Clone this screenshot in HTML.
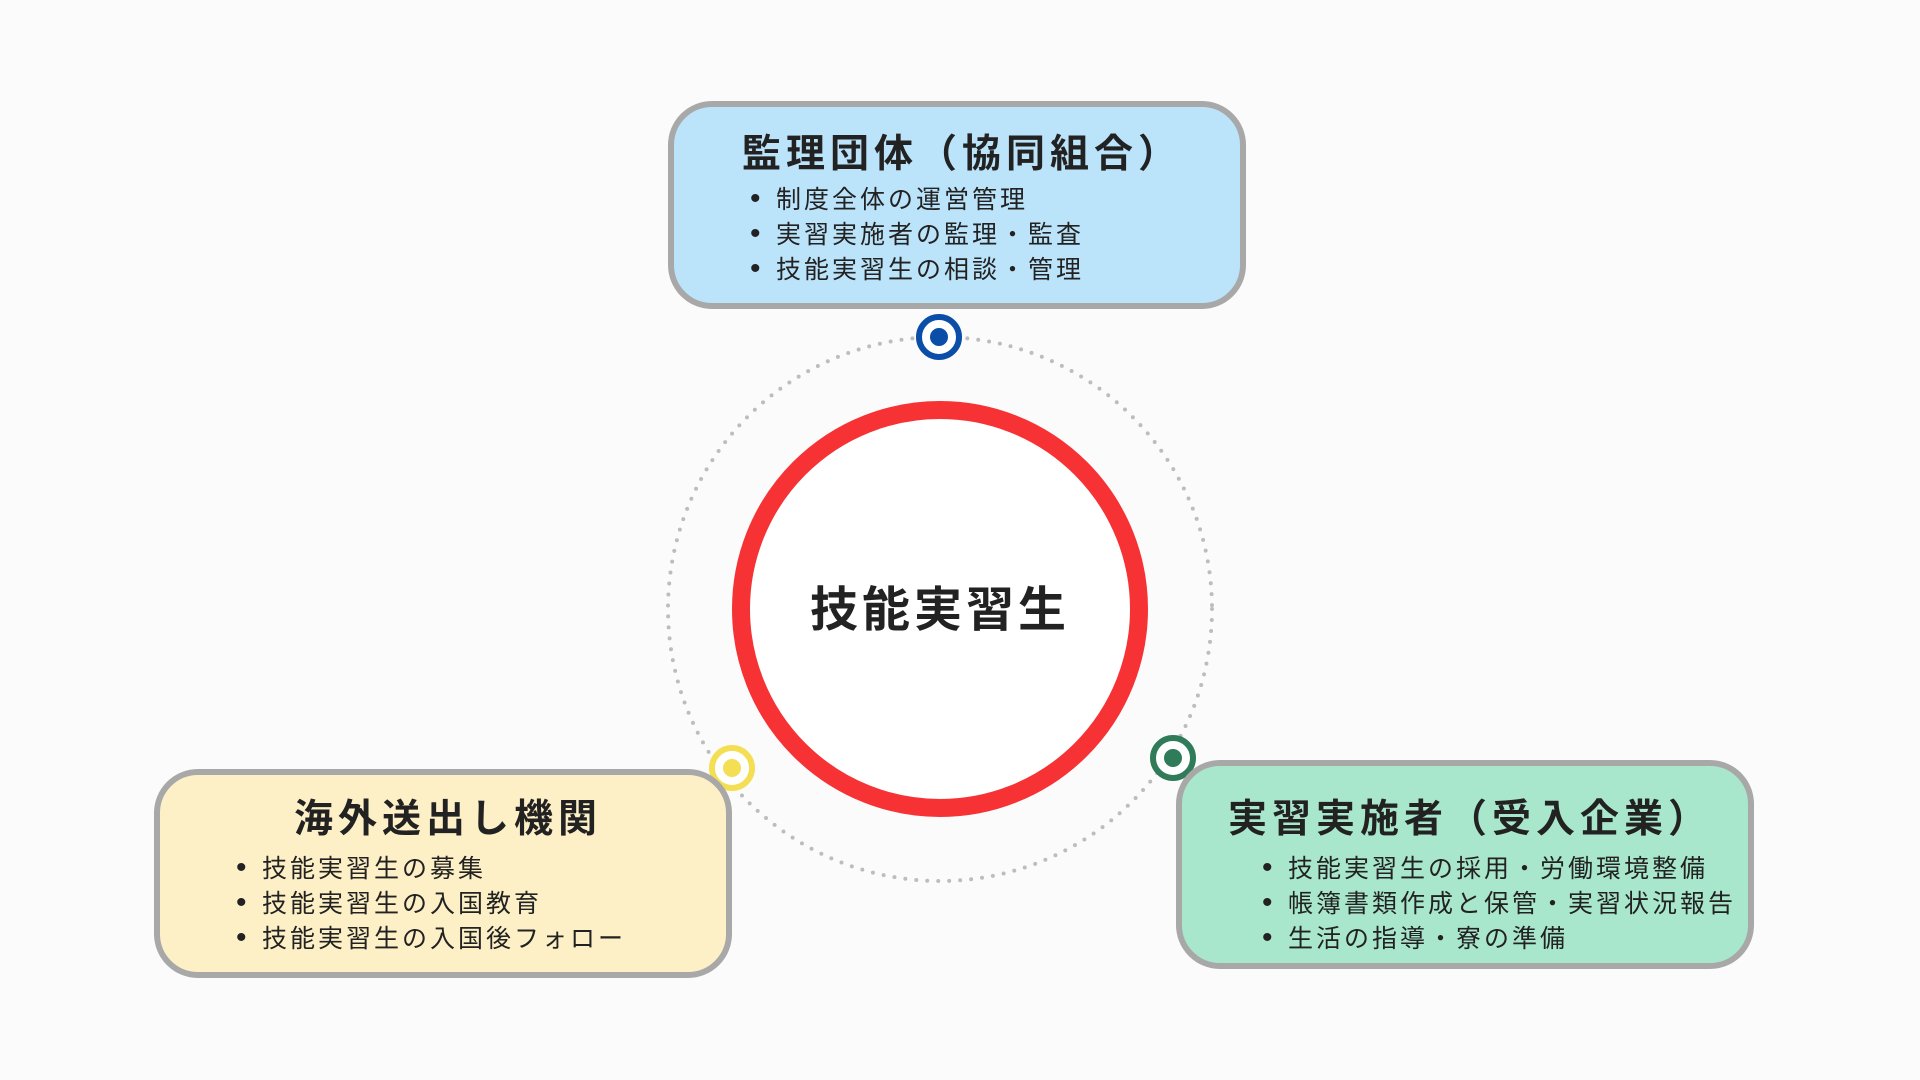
<!DOCTYPE html>
<html><head><meta charset="utf-8"><style>
body{margin:0;width:1920px;height:1080px;background:#fcfbfc;position:relative;overflow:hidden;font-family:"Liberation Sans","Noto Sans CJK JP",sans-serif;color:#222}
.box{position:absolute;box-sizing:border-box;border:6px solid #a8a8a8;border-radius:44px}
.t{position:absolute;left:10px;right:0;text-align:center;font-weight:bold;font-size:39px;letter-spacing:5px}
ul{position:absolute;margin:0;padding:0;list-style:none;font-size:25px;letter-spacing:3px}
li{height:35px;line-height:35px;white-space:nowrap}
li:before{content:"•";display:inline-block;width:26px;font-size:30px}
</style></head><body>
<svg width="1920" height="1080" style="position:absolute;left:0;top:0">
<circle cx="940" cy="609" r="272" fill="none" stroke="#bdbdbd" stroke-width="4" stroke-dasharray="0 11" stroke-linecap="round"/>
<circle cx="940" cy="609" r="199" fill="#fff" stroke="#f63234" stroke-width="18"/>
<text x="940" y="626" text-anchor="middle" font-size="48" font-weight="bold" fill="#222" letter-spacing="4" font-family="Liberation Sans, Noto Sans CJK JP, sans-serif">技能実習生</text>
<circle cx="939" cy="337" r="20" fill="#fff" stroke="#0a4ea8" stroke-width="6"/><circle cx="939" cy="337" r="9" fill="#0a4ea8"/>
<circle cx="732" cy="768" r="20" fill="#fff" stroke="#f4df54" stroke-width="6"/><circle cx="732" cy="768" r="9" fill="#f4df54"/>
<circle cx="1173" cy="758" r="20" fill="#fff" stroke="#2f7b5a" stroke-width="6"/><circle cx="1173" cy="758" r="9" fill="#2f7b5a"/>
</svg>
<div class="box" style="left:668px;top:101px;width:578px;height:208px;background:#bbe3fa">
<div class="t" style="top:16px">監理団体（協同組合）</div>
<ul style="left:76px;top:74px"><li>制度全体の運営管理</li><li>実習実施者の監理・監査</li><li>技能実習生の相談・管理</li></ul></div>
<div class="box" style="left:154px;top:769px;width:578px;height:209px;background:#fdf0c6">
<div class="t" style="top:13px">海外送出し機関</div>
<ul style="left:76px;top:75px"><li>技能実習生の募集</li><li>技能実習生の入国教育</li><li>技能実習生の入国後フォロー</li></ul></div>
<div class="box" style="left:1176px;top:760px;width:578px;height:209px;background:#a9e7cd">
<div class="t" style="top:22px">実習実施者（受入企業）</div>
<ul style="left:80px;top:84px"><li>技能実習生の採用・労働環境整備</li><li>帳簿書類作成と保管・実習状況報告</li><li>生活の指導・寮の準備</li></ul></div>
</body></html>
